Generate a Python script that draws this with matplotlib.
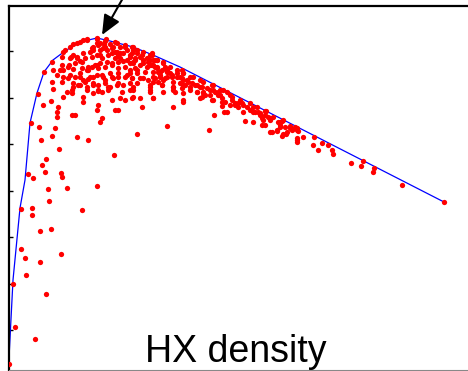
import matplotlib
matplotlib.use("Agg")
import matplotlib.pyplot as plt

density = [
    64, 68, 74, 78, 88, 97, 91, 54, 43, 35, 29, 22, 19, 24, 62, 68, 74, 81, 84, 91,
    95, 104, 103, 111, 118, 124, 128, 108, 116, 84, 88, 94, 91, 101, 98, 106, 111, 109, 121, 133,
    138, 143, 148, 134, 141, 146, 149, 64, 71, 60, 53, 54, 44, 48, 64, 73, 78, 83, 88, 91,
    98, 103, 109, 114, 121, 126, 54, 59, 71, 74, 79, 84, 93, 96, 103, 109, 116, 121, 128, 131,
    139, 144, 149, 43, 44, 64, 71, 78, 84, 89, 99, 109, 121, 121, 141, 58, 63, 54, 74, 84,
    93, 103, 111, 116, 124, 131, 141, 34, 42, 49, 48, 63, 66, 74, 88, 89, 109, 93, 48, 46,
    30, 32, 43, 50, 68, 79, 91, 106, 128, 158, 105, 37, 33, 36, 52, 53, 39, 58, 88, 133,
    144, 164, 200, 205, 215, 213, 12, 23, 23, 40, 73, 31, 42, 12, 16, 31, 52, 17, 4, 37,
    6, 26, 0,
    143, 146, 154, 156, 173, 174, 181, 191, 203, 211, 221, 231, 241, 248, 256, 264, 273, 281, 288, 141,
    144, 148, 151, 158, 161, 151, 156, 163, 168, 171, 174, 179, 174, 181, 186, 191, 188, 194, 193, 196,
    201, 206, 209, 203, 213, 216, 223, 221, 226, 229, 234, 238, 241, 244, 249, 251, 256, 259, 254, 261,
    269, 271, 276, 278, 283, 286, 288, 144, 153, 164, 164, 174, 218, 236, 244, 256, 261, 268, 274, 288,
    223, 226, 229, 233, 234, 244, 246, 251, 253, 257, 253, 261, 271, 274, 271, 281, 283, 289, 288, 288,
    294, 273, 277, 263, 268, 305, 304, 313, 319, 309, 323, 324, 354, 342, 352, 365, 364, 393, 435,
    # second reading of the crowded area near the peak
    56, 61, 71, 78, 88, 96, 106, 116, 124, 83, 89, 96, 103, 108, 114, 121, 53, 61, 68, 76,
    83, 88, 93, 99, 106, 111, 118, 124, 59, 66, 73, 79, 86, 89, 96, 103, 109, 116, 121, 126,
    51, 61, 66, 71, 79, 81, 88, 94, 101, 104, 109, 118, 123, 53, 64, 69, 76, 84, 89, 96,
    101, 108, 114, 63, 78, 89, 99, 113, 124,
    123, 128, 134, 141, 148, 154, 161, 168, 174, 184, 194, 204, 214, 123, 126, 131, 134, 139, 144, 124,
    131, 138, 143, 148, 153, 158, 128, 136, 144, 151, 158, 163, 168, 173, 178, 123, 134, 146, 154, 164,
    171, 176, 183, 188, 193, 198, 204, 209, 128, 141, 153, 164, 173, 181, 188, 194, 201, 211, 218, 166,
    174, 124, 141, 144, 123, 174, 191, 204, 213, 154,
]
value = [
    326, 327, 330, 331, 332, 331, 327, 318, 308, 298, 276, 247, 196, 192, 313, 312, 317, 318, 323, 320,
    326, 323, 317, 317, 320, 323, 317, 327, 323, 320, 327, 322, 315, 326, 320, 318, 323, 315, 313, 315,
    312, 317, 310, 307, 305, 303, 298, 315, 309, 305, 305, 300, 300, 295, 301, 302, 300, 303, 305, 307,
    308, 307, 308, 309, 307, 310, 293, 292, 293, 290, 291, 293, 295, 290, 293, 297, 293, 297, 297, 292,
    290, 293, 288, 288, 281, 283, 285, 283, 285, 280, 283, 287, 287, 280, 283, 278, 277, 273, 273, 277,
    278, 270, 272, 270, 273, 272, 278, 265, 269, 263, 258, 255, 255, 268, 260, 265, 260, 252, 253, 242,
    243, 230, 234, 221, 233, 230, 248, 260, 236, 244, 215, 211, 205, 198, 197, 193, 181, 182, 184, 263,
    272, 263, 240, 255, 258, 264, 161, 162, 155, 169, 160, 139, 141, 121, 112, 108, 116, 95, 86, 76,
    43, 31, 6,
    315, 310, 308, 303, 300, 297, 293, 290, 285, 280, 275, 270, 267, 263, 259, 253, 249, 244, 242, 310,
    305, 302, 298, 300, 297, 293, 292, 293, 297, 293, 290, 288, 285, 283, 285, 283, 278, 278, 273, 275,
    280, 278, 275, 270, 272, 268, 270, 265, 265, 267, 265, 263, 260, 258, 258, 255, 255, 253, 250, 250,
    248, 245, 243, 238, 241, 243, 240, 288, 285, 283, 280, 268, 258, 249, 248, 245, 238, 240, 236, 232,
    273, 267, 263, 267, 258, 263, 258, 257, 252, 259, 245, 252, 248, 250, 243, 242, 240, 239, 230, 228,
    233, 234, 236, 238, 239, 233, 225, 227, 225, 220, 220, 216, 209, 207, 204, 202, 198, 185, 168,
    # second reading of the crowded area near the peak
    320, 323, 328, 330, 331, 329, 328, 325, 320, 322, 325, 323, 322, 318, 317, 315, 313, 312, 313, 312,
    313, 315, 312, 315, 312, 312, 310, 308, 303, 307, 308, 303, 305, 302, 303, 305, 302, 303, 300, 302,
    300, 295, 293, 297, 300, 293, 295, 293, 297, 292, 293, 295, 292, 288, 287, 285, 288, 287, 285, 287,
    283, 285, 285, 280, 280, 279, 280, 278, 280,
    323, 320, 318, 315, 310, 307, 303, 300, 297, 293, 288, 285, 280, 317, 312, 313, 310, 308, 310, 307,
    305, 303, 305, 303, 300, 298, 300, 298, 298, 295, 293, 295, 293, 292, 290, 292, 292, 292, 290, 288,
    287, 285, 287, 285, 283, 282, 280, 278, 287, 285, 285, 283, 282, 280, 278, 277, 275, 275, 278, 278,
    277, 283, 280, 272, 272, 270, 272, 270, 268, 278,
]

# upper envelope drawn in blue
env_density = [0, 4, 11, 16, 21, 28, 35, 44, 56, 71, 88, 101, 124, 144, 171, 435]
env_value = [12, 90, 162, 190, 247, 277, 298, 310, 319, 328, 332, 329, 323, 315, 303, 168]

# peak that the arrow points at
peak = (93, 335)

fig = plt.figure(figsize=(4.68, 3.71), dpi=100)
ax = fig.add_axes([8.5 / 468, 1 / 371, 461.5 / 468, 364.5 / 371])

ax.plot(env_density, env_value, color="#0000ff", lw=0.9, zorder=2)
ax.plot(density, value, "o", color="#ff0000", ms=3.8, mew=0, zorder=3)

ax.set_xlim(-0.5, 461)
ax.set_ylim(0, 364.5)

# only short inward ticks on the left side, no labels
ax.set_xticks([])
ax.set_yticks([40, 86.5, 133, 179.5, 226, 272.5, 319])
ax.tick_params(axis="y", direction="in", length=3, width=1, labelleft=False)

for side in ["left", "top"]:
    ax.spines[side].set_linewidth(1.6)
    ax.spines[side].set_color("black")
ax.spines["bottom"].set_color("#888888")
ax.spines["bottom"].set_linewidth(0.8)
ax.spines["right"].set_visible(False)

ax.annotate("", xy=peak, xytext=(114, 372),
            arrowprops=dict(arrowstyle="-|>,head_length=0.8,head_width=0.35",
                            color="black", lw=1.5, mutation_scale=15,
                            shrinkA=0, shrinkB=0),
            annotation_clip=False)

ax.text(227, 8, "HX density", ha="center", va="baseline",
        fontsize=27, family=["Liberation Sans", "DejaVu Sans"])

fig.savefig("out.png", dpi=100)
